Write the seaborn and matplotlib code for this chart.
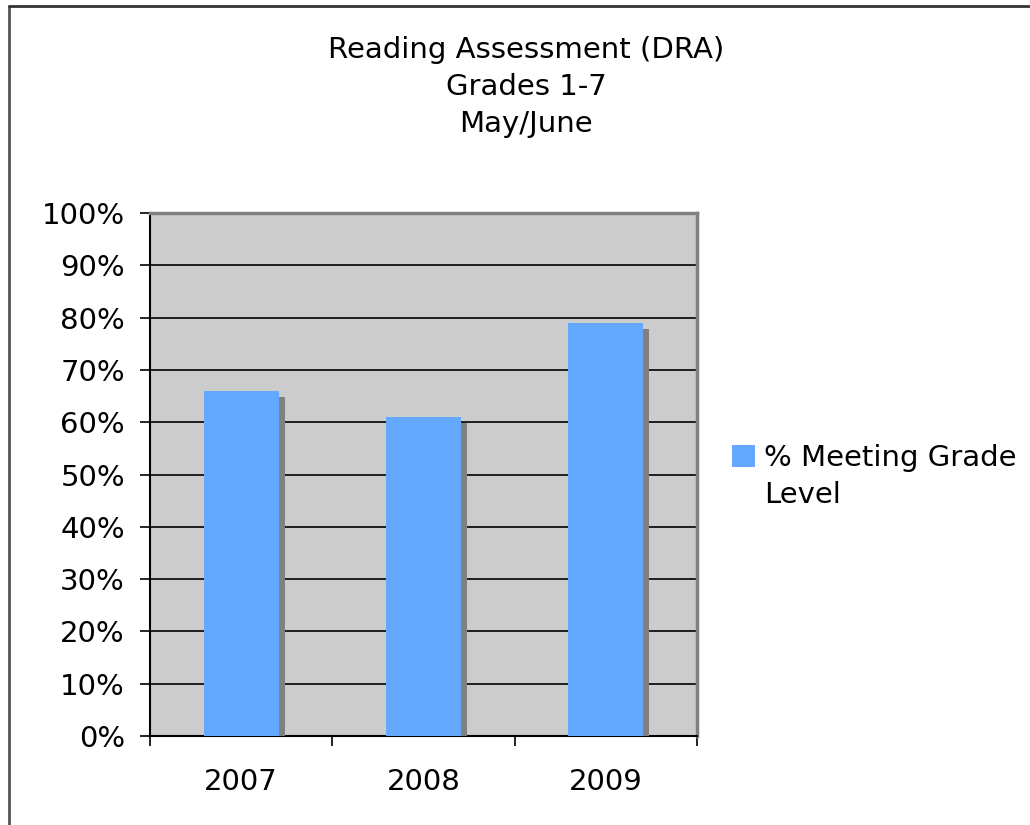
import matplotlib
matplotlib.use("Agg")
import matplotlib.pyplot as plt
import matplotlib.patheffects as pe
from matplotlib.lines import Line2D
from matplotlib.patches import Patch
from matplotlib.ticker import FuncFormatter, FixedLocator
import seaborn as sns
import pandas as pd

years = ["2007", "2008", "2009"]
pct_meeting = [66, 61, 79]
series_label_lines = ["% Meeting Grade", "Level"]
title = "Reading Assessment (DRA)\nGrades 1-7\nMay/June"
bar_color = "#63A9FF"

sns.set_style("white")
plt.rcParams["font.family"] = ["DejaVu Sans"]
plt.rcParams["text.color"] = "black"
plt.rcParams["xtick.color"] = "black"
plt.rcParams["ytick.color"] = "black"

W, H = 1030, 825
FS = 21
fig = plt.figure(figsize=(W / 100, H / 100), dpi=100)
ax = fig.add_axes([150 / W, 1 - 736 / H, (697 - 150) / W, (736 - 213) / H])

df = pd.DataFrame({"year": years, "value": pct_meeting})
sns.barplot(data=df, x="year", y="value", color=bar_color, saturation=1,
            width=0.41, ax=ax, zorder=3)

for p in ax.patches:
    p.set_linewidth(0)
    p.set_path_effects([pe.SimplePatchShadow(offset=(4.3, -4.3), shadow_rgbFace="#808080", alpha=1.0),
                        pe.Normal()])

ax.set_facecolor("#CCCCCC")
ax.set_ylim(0, 100)
ax.set_xlim(-0.5, 2.5)
ax.yaxis.set_major_locator(FixedLocator(list(range(0, 101, 10))))
ax.yaxis.set_major_formatter(FuncFormatter(lambda v, _: f"{int(v)}%"))
ax.grid(axis="y", color="black", linewidth=1.2, zorder=1)
ax.set_axisbelow(True)
ax.set_xlabel("")
ax.set_ylabel("")

ax.tick_params(axis="y", which="major", left=True, length=7, width=1.2, color="black",
               labelsize=FS, labelcolor="black", pad=11)
ax.tick_params(axis="x", which="major", bottom=True, length=0, labelsize=FS,
               labelcolor="black", pad=23)
ax.xaxis.set_minor_locator(FixedLocator([-0.5, 0.5, 1.5, 2.5]))
ax.tick_params(axis="x", which="minor", bottom=True, length=7, width=1.2, color="black")

for side in ["left", "bottom"]:
    ax.spines[side].set_color("black")
    ax.spines[side].set_linewidth(1.5)
for side in ["top", "right"]:
    ax.spines[side].set_visible(True)
    ax.spines[side].set_color("#808080")
    ax.spines[side].set_linewidth(2.5)

fig.text(526 / W, 1 - 36 / H, title, ha="center", va="top", fontsize=FS, linespacing=1.42,
         color="black")

handles = [Patch(facecolor=bar_color, edgecolor="none"),
           Patch(facecolor="none", edgecolor="none")]
leg = fig.legend(handles, series_label_lines, loc="upper left",
                 bbox_to_anchor=(732 / W, 1 - 444 / H),
                 frameon=False, fontsize=FS, handlelength=0.8, handleheight=0.8,
                 handletextpad=0.3, borderpad=0, borderaxespad=0, labelspacing=0.3)
for t in leg.get_texts():
    t.set_color("black")

fig.add_artist(Line2D([9 / W, 9 / W], [0, 1 - 6 / H], color="#555555", linewidth=2,
                      transform=fig.transFigure))
fig.add_artist(Line2D([9 / W, 1], [1 - 6 / H, 1 - 6 / H], color="#333333", linewidth=2,
                      transform=fig.transFigure))

fig.savefig("out.png", dpi=100, facecolor="white")
